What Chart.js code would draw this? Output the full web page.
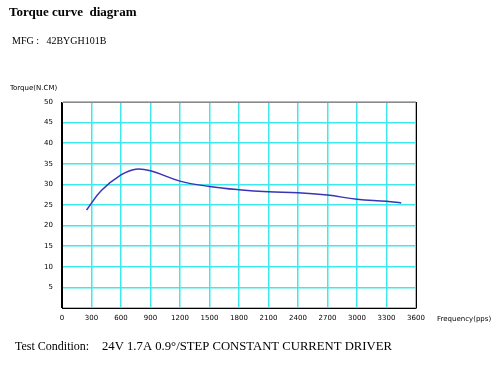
<!DOCTYPE html>
<html>
<head>
<meta charset="utf-8">
<script src="https://cdn.jsdelivr.net/npm/chart.js@4"></script>
<style>
html,body{margin:0;padding:0;background:#fff;}
#wrap{position:relative;width:500px;height:373px;}
</style>
</head>
<body>
<div id="wrap"><canvas id="c" width="500" height="373"></canvas></div>
<script>
// Data
const frequency = [250, 400, 600, 750, 900, 1200, 1500, 1800, 2100, 2400, 2700, 3000, 3300, 3450];
const torque    = [23.8, 28.5, 32.3, 33.7, 33.3, 30.8, 29.5, 28.7, 28.2, 28.0, 27.4, 26.4, 25.9, 25.5];
const xTicks = [0, 300, 600, 900, 1200, 1500, 1800, 2100, 2400, 2700, 3000, 3300, 3600];
const yTicks = [0, 5, 10, 15, 20, 25, 30, 35, 40, 45, 50];

const titleText = 'Torque curve  diagram';
const mfgText = 'MFG :   42BYGH101B';
const yAxisTitle = 'Torque(N.CM)';
const xAxisTitle = 'Frequency(pps)';
const condLabel = 'Test Condition:';
const condText = '24V 1.7A 0.9\u00B0/STEP CONSTANT CURRENT DRIVER';

const textPlugin = {
  id: 'texts',
  afterDraw(chart) {
    const ctx = chart.ctx;
    const a = chart.chartArea;
    ctx.save();
    // top border gray, right border black
    ctx.lineWidth = 1;
    ctx.strokeStyle = '#8a8a8a';
    ctx.beginPath(); ctx.moveTo(a.left, a.top + 0.5); ctx.lineTo(a.right, a.top + 0.5); ctx.stroke();
    ctx.strokeStyle = '#000';
    ctx.beginPath(); ctx.moveTo(a.right + 0.5, a.top); ctx.lineTo(a.right + 0.5, a.bottom); ctx.stroke();

    ctx.fillStyle = '#000';
    ctx.textBaseline = 'middle';
    ctx.textAlign = 'left';
    ctx.font = 'bold 13px "Liberation Serif"';
    ctx.fillText(titleText, 9, 13);
    ctx.font = '10px "Liberation Serif"';
    ctx.fillText(mfgText, 12, 41);
    ctx.font = '7px "DejaVu Sans"';
    ctx.fillText(yAxisTitle, 10, 88);
    ctx.fillText(xAxisTitle, 437, 319);
    ctx.font = '12px "Liberation Serif"';
    ctx.fillText(condLabel, 15, 347);
    ctx.font = '12.7px "Liberation Serif"';
    ctx.fillText(condText, 102, 347);
    ctx.restore();
  }
};

new Chart(document.getElementById('c'), {
  type: 'line',
  data: {
    datasets: [{
      data: frequency.map((f, i) => ({x: f, y: torque[i]})),
      borderColor: '#3a33b8',
      borderWidth: 1.5,
      pointRadius: 0,
      tension: 0.4,
      fill: false
    }]
  },
  options: {
    responsive: false,
    animation: false,
    devicePixelRatio: 1,
    layout: { padding: { left: 0, top: 102, right: 84, bottom: 45 } },
    plugins: { legend: { display: false }, tooltip: { enabled: false }, title: { display: false } },
    scales: {
      x: {
        type: 'linear',
        min: 0, max: 3600,
        afterBuildTicks(s) { s.ticks = xTicks.map(v => ({value: v})); },
        afterFit(s) { s.height = 20; },
        grid: {
          drawTicks: false,
          color: ctx => (ctx.tick && ctx.tick.value === 0) ? '#000' : '#3de9ec',
          lineWidth: 1.5
        },
        border: { color: '#000', width: 1 },
        ticks: {
          padding: 6,
          maxRotation: 0,
          autoSkip: false,
          color: '#000',
          font: { family: 'DejaVu Sans', size: 7 },
          callback: v => String(v)
        }
      },
      y: {
        min: 0, max: 50,
        afterBuildTicks(s) { s.ticks = yTicks.map(v => ({value: v})); },
        afterFit(s) { s.width = 62; },
        grid: {
          drawTicks: false,
          color: '#3de9ec',
          lineWidth: 1.5
        },
        border: { color: '#000', width: 1 },
        ticks: {
          padding: 9,
          color: '#000',
          font: { family: 'DejaVu Sans', size: 7 },
          callback: v => v === 0 ? '' : String(v)
        }
      }
    }
  },
  plugins: [textPlugin]
});
</script>
</body>
</html>
